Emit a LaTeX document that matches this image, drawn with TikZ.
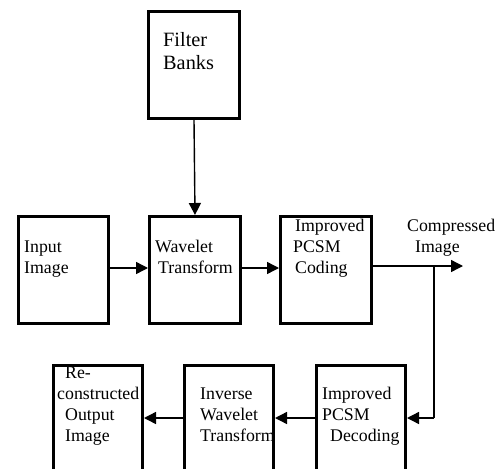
\documentclass[tikz,border=0pt]{standalone}
\usepackage{fontspec}
\setmainfont{Liberation Serif}
\usetikzlibrary{arrows.meta}
\begin{document}
\begin{tikzpicture}[x=1pt,y=-1pt,
  blk/.style={draw,line width=3pt,rectangle,inner sep=0pt,minimum width=#1,anchor=north west},
  lbl/.style={anchor=base west,inner sep=0pt,font=\fontsize{17.8}{21}\selectfont},
  biglbl/.style={anchor=base west,inner sep=0pt,font=\fontsize{20.3}{23}\selectfont},
  conn/.style={line width=1.4pt,-{Triangle[length=12pt,width=12pt]}},
  plain/.style={line width=1.4pt}]
\useasboundingbox (0,0) rectangle (500,468);
\clip (0,0) rectangle (500,468);
% boxes
\node[blk=91pt,minimum height=107pt] (fb) at (147,10) {};
\node[blk=90pt,minimum height=107pt] (in) at (17,215) {};
\node[blk=91pt,minimum height=107pt] (wt) at (148,215) {};
\node[blk=91pt,minimum height=107pt] (pc) at (279,215) {};
\node[blk=89pt,minimum height=120pt] (rc) at (52,364) {};
\node[blk=89pt,minimum height=120pt] (iw) at (183,364) {};
\node[blk=89pt,minimum height=120pt] (pd) at (315,364) {};
% labels
\node[biglbl] (t1) at (163,47) {Filter};
\node[biglbl] (t2) at (163,70) {Banks};
\node[lbl] (t3) at (24,252) {Input};
\node[lbl] (t4) at (24,273) {Image};
\node[lbl] (t5) at (155,252) {Wavelet};
\node[lbl] (t6) at (158,273) {Transform};
\node[lbl] (t7) at (295,231) {Improved};
\node[lbl] (t8) at (293,252) {PCSM};
\node[lbl] (t9) at (295,273) {Coding};
\node[lbl] (t10) at (407,231) {Compressed};
\node[lbl] (t11) at (415,252) {Image};
\node[lbl] (t12) at (65,378) {Re-};
\node[lbl] (t13) at (57,399) {constructed};
\node[lbl] (t14) at (65,420) {Output};
\node[lbl] (t15) at (65,441) {Image};
\node[lbl] (t16) at (200,399) {Inverse};
\node[lbl] (t17) at (200,420) {Wavelet};
\node[lbl] (t18) at (200,441) {Transform};
\node[lbl] (t19) at (322,399) {Improved};
\node[lbl] (t20) at (322,420) {PCSM};
\node[lbl] (t21) at (330,441) {Decoding};
% connectors
\coordinate (out) at (463,266);
\coordinate (split) at (434,266);
\coordinate (corner) at (434,418);
\draw[conn] (fb.south) -- (wt.north);
\draw[conn] (in.east |- 0,268) -- (wt.west |- 0,268);
\draw[conn] (wt.east |- 0,268) -- (pc.west |- 0,268);
\draw[conn] (pc.east |- out) -- (out);
\draw[plain] (split) -- (corner);
\draw[conn] (corner) -- (pd.east |- corner);
\draw[conn] (pd.west |- corner) -- (iw.east |- corner);
\draw[conn] (iw.west |- corner) -- (rc.east |- corner);
\end{tikzpicture}
\end{document}
